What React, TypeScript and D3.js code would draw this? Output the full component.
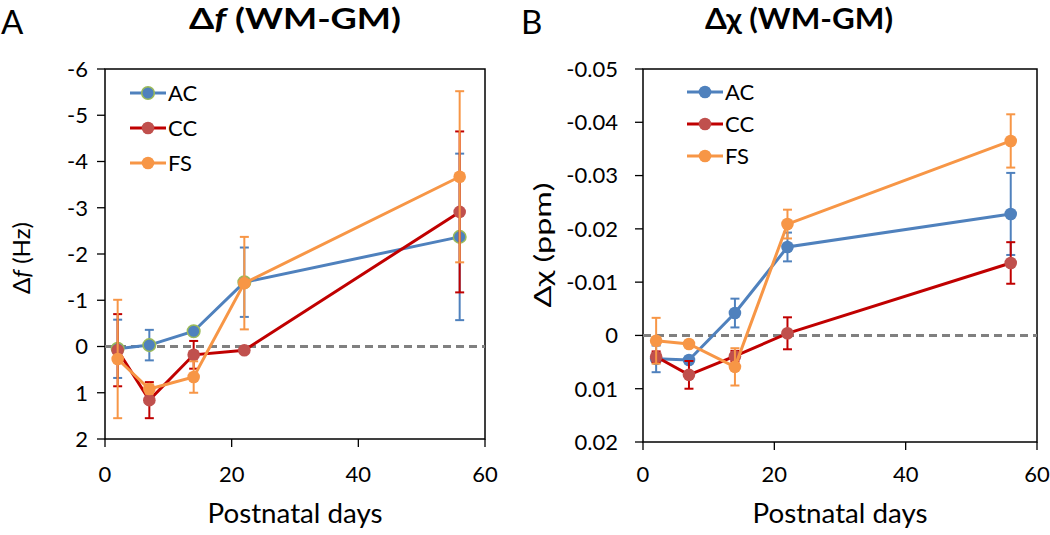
import React from "react";
import * as d3 from "d3";

const days = [2, 7, 14, 22, 56];
const seriesNames = ["AC", "CC", "FS"];

// Panel A: Δf (Hz)
const fAC = [0.05, -0.03, -0.33, -1.39, -2.37];
const fACerr = [0.63, 0.33, 0.05, 0.75, 1.8];
const fCC = [0.08, 1.16, 0.18, 0.08, -2.91];
const fCCerr = [0.78, 0.39, 0.3, 0.05, 1.74];
const fFS = [0.27, 0.92, 0.66, -1.37, -3.67];
const fFSerr = [1.28, 0.1, 0.34, 1.0, 1.85];
const fTicks = [-6, -5, -4, -3, -2, -1, 0, 1, 2];

// Panel B: Δχ (ppm)
const cAC = [0.0044, 0.0046, -0.0042, -0.0166, -0.0228];
const cACerr = [0.0025, 0.0005, 0.0027, 0.0027, 0.0077];
const cCC = [0.004, 0.0074, 0.0039, -0.0004, -0.0136];
const cCCerr = [0.001, 0.0026, 0.001, 0.003, 0.0039];
const cFS = [0.001, 0.0016, 0.0059, -0.0209, -0.0365];
const cFSerr = [0.0043, 0.0005, 0.0035, 0.0027, 0.005];
const cTicks = [-0.05, -0.04, -0.03, -0.02, -0.01, 0, 0.01, 0.02];
const xTicks = [0, 20, 40, 60];

const lineColors = ["#4f81bd", "#c00000", "#f79646"];
const markerColors = ["#4f81bd", "#c0504d", "#f79646"];
const FONT = "Lato, 'Open Sans', sans-serif";

type PanelProps = {
  left: number; right: number; top: number; bottom: number;
  yDomain: [number, number];
  yTicks: number[];
  yFmt: (v: number) => string;
  labelGap: number;
  values: number[][];
  errs: number[][];
  acOutline: boolean;
  legendX: number; legendY: number; legendGap: number;
  yTitle: React.ReactNode; yTitleX: number; yTitleY: number; yTitleLen: number;
};

function Panel(p: PanelProps) {
  const x = d3.scaleLinear().domain([0, 60]).range([p.left, p.right]);
  const y = d3.scaleLinear().domain(p.yDomain).range([p.top, p.bottom]);
  const line = d3.line<number>().x((_, i) => x(days[i])).y((v) => y(v));
  return (
    <g fontFamily={FONT}>
      <rect x={p.left} y={p.top} width={p.right - p.left} height={p.bottom - p.top} fill="none" stroke="#000" strokeWidth={1.5} />
      {p.yTicks.map((t) => (
        <g key={t}>
          <line x1={p.left - 8} x2={p.left} y1={y(t)} y2={y(t)} stroke="#000" strokeWidth={1.3} />
          <text x={p.left - p.labelGap} y={y(t)} dy="0.36em" textAnchor="end" fontSize={22}>{p.yFmt(t)}</text>
        </g>
      ))}
      {xTicks.map((t) => (
        <g key={t}>
          <line x1={x(t)} x2={x(t)} y1={p.bottom} y2={p.bottom + 8} stroke="#000" strokeWidth={1.3} />
          <text x={x(t)} y={482} textAnchor="middle" fontSize={22}>{t}</text>
        </g>
      ))}
      <text x={(p.left + p.right) / 2} y={523} textAnchor="middle" fontSize={26} textLength={175} lengthAdjust="spacingAndGlyphs">Postnatal days</text>
      <text transform={`translate(${p.yTitleX},${p.yTitleY}) rotate(-90)`} textAnchor="middle" fontSize={24}
        textLength={p.yTitleLen} lengthAdjust="spacingAndGlyphs">{p.yTitle}</text>
      <line x1={p.left} x2={p.right} y1={y(0)} y2={y(0)} stroke="#808080" strokeWidth={3} strokeDasharray="8,5" />
      {p.values.map((vals, si) => (
        <g key={si}>
          <path d={line(vals) || ""} fill="none" stroke={lineColors[si]} strokeWidth={3} />
          {vals.map((v, i) => {
            const e = p.errs[si][i];
            const cx = x(days[i]);
            return (
              <g key={i} stroke={lineColors[si]} strokeWidth={2}>
                <line x1={cx} x2={cx} y1={y(v - e)} y2={y(v + e)} />
                <line x1={cx - 4.5} x2={cx + 4.5} y1={y(v - e)} y2={y(v - e)} />
                <line x1={cx - 4.5} x2={cx + 4.5} y1={y(v + e)} y2={y(v + e)} />
              </g>
            );
          })}
          {vals.map((v, i) => (
            <circle key={"m" + i} cx={x(days[i])} cy={y(v)} r={6.3} fill={markerColors[si]}
              stroke={si === 0 && p.acOutline ? "#9bbb59" : "none"} strokeWidth={1.5} />
          ))}
        </g>
      ))}
      {seriesNames.map((n, i) => {
        const ly = p.legendY + i * p.legendGap;
        return (
          <g key={n}>
            <line x1={p.legendX} x2={p.legendX + 36} y1={ly} y2={ly} stroke={lineColors[i]} strokeWidth={3} />
            <circle cx={p.legendX + 18} cy={ly} r={6.3} fill={markerColors[i]}
              stroke={i === 0 && p.acOutline ? "#9bbb59" : "none"} strokeWidth={1.5} />
            <text x={p.legendX + 38} y={ly} dy="0.36em" fontSize={22}>{n}</text>
          </g>
        );
      })}
    </g>
  );
}

export default function App() {
  return (
    <svg width={1050} height={535} style={{ position: "absolute", left: 0, top: 0, background: "#fff" }}>
      <rect width={1050} height={535} fill="#fff" />
      <text x={1} y={34} fontFamily={FONT} fontSize={33}>A</text>
      <text x={521} y={34} fontFamily={FONT} fontSize={33}>B</text>
      <text x={295} y={29} textAnchor="middle" fontFamily={FONT} fontSize={29} fontWeight="bold"
        textLength={212} lengthAdjust="spacingAndGlyphs">
        Δ<tspan fontStyle="italic">f</tspan> (WM-GM)
      </text>
      <text x={799} y={29} textAnchor="middle" fontFamily={FONT} fontSize={29} fontWeight="bold"
        textLength={188} lengthAdjust="spacingAndGlyphs">
        Δχ (WM-GM)
      </text>
      <Panel left={105} right={485} top={69} bottom={439} yDomain={[-6, 2]} yTicks={fTicks}
        yFmt={(v) => String(v)} labelGap={17} values={[fAC, fCC, fFS]} errs={[fACerr, fCCerr, fFSerr]}
        acOutline={true} legendX={130} legendY={93} legendGap={35}
        yTitle={<>Δ<tspan fontStyle="italic">f</tspan> (Hz)</>} yTitleX={30} yTitleY={258} yTitleLen={72} />
      <Panel left={643} right={1037} top={69} bottom={442} yDomain={[-0.05, 0.02]} yTicks={cTicks}
        yFmt={(v) => (v === 0 ? "0" : v.toFixed(2))} labelGap={25} values={[cAC, cCC, cFS]} errs={[cACerr, cCCerr, cFSerr]}
        acOutline={false} legendX={687} legendY={92} legendGap={32}
        yTitle={<>Δχ (ppm)</>} yTitleX={551} yTitleY={245} yTitleLen={125} />
    </svg>
  );
}
